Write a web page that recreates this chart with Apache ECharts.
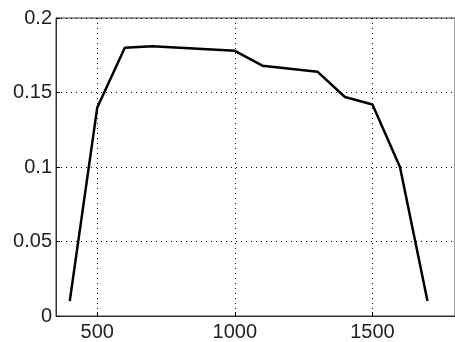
<!DOCTYPE html>
<html lang="en">
<head>
    <meta charset="UTF-8">
    <title>curve</title>
    <script src="https://cdn.jsdelivr.net/npm/echarts@6/dist/echarts.min.js"></script>
    <style>
        html, body { margin: 0; padding: 0; background: #fff; }
    </style>
</head>
<body>
<div id="main" style="width: 455px;height:342px;"></div>

<script type="text/javascript">
    // data
    var xData = [400, 500, 600, 700, 800, 900, 1000, 1100, 1200, 1300, 1400, 1500, 1600, 1700];
    var yData = [0.01, 0.14, 0.18, 0.181, 0.18, 0.179, 0.178, 0.168, 0.166, 0.164, 0.147, 0.142, 0.1, 0.01];
    var xTicks = [500, 1000, 1500];
    var yTicks = [0, 0.05, 0.1, 0.15, 0.2];

    var points = [];
    for (var i = 0; i < xData.length; i++) {
        points.push([xData[i], yData[i]]);
    }

    var chart = echarts.init(document.getElementById('main'));
    var dotted = { color: '#000', width: 1, type: [1, 4] };
    var labelFont = { color: '#222', fontSize: 20, fontFamily: 'Liberation Sans, Arial, sans-serif' };

    var option = {
        animation: false,
        grid: {
            left: 56,
            top: 18,
            right: -1,
            bottom: 26,
            show: true,
            borderColor: '#333',
            borderWidth: 1
        },
        xAxis: {
            type: 'value',
            min: 350,
            max: 1800,
            axisLine: { show: true, onZero: false, lineStyle: { color: '#333' } },
            axisTick: { show: true, inside: true, length: 4, customValues: xTicks, lineStyle: { color: '#000' } },
            axisLabel: Object.assign({
                margin: 6,
                customValues: xTicks,
                formatter: function (v) { return String(v); }
            }, labelFont),
            splitLine: { show: true, lineStyle: dotted }
        },
        yAxis: {
            type: 'value',
            min: 0,
            max: 0.2,
            interval: 0.05,
            axisLine: { show: true, lineStyle: { color: '#333' } },
            axisTick: { show: true, inside: true, length: 4, lineStyle: { color: '#000' } },
            axisLabel: Object.assign({
                margin: 4,
                customValues: yTicks,
                formatter: function (v) { return String(+v.toFixed(2)); }
            }, labelFont),
            splitLine: { show: true, lineStyle: dotted }
        },
        series: [{
            type: 'line',
            data: points,
            symbol: 'none',
            lineStyle: { color: '#000', width: 2.5 }
        }]
    };
    chart.setOption(option);
</script>

</body>
</html>
